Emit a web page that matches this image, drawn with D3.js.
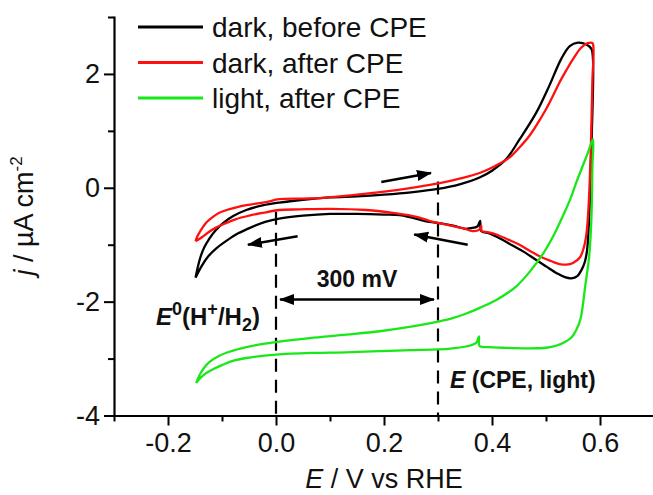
<!DOCTYPE html>
<html>
<head>
<meta charset="utf-8">
<script src="https://cdn.jsdelivr.net/npm/d3@7"></script>
<style>
  body { margin: 0; background: #fff; }
  svg text { font-family: "Liberation Sans", Arial, sans-serif; fill: #111; }
</style>
</head>
<body>
<script>
// chart data (E in V vs RHE, j in uA/cm2)
const xMajor = [-0.2, 0.0, 0.2, 0.4, 0.6];
const xMinor = [-0.3, -0.1, 0.1, 0.3, 0.5, 0.7];
const yMajor = [-4, -2, 0, 2];
const yMinor = [-3, -1, 1, 3];

const seriesNames = ["dark, before CPE", "dark, after CPE", "light, after CPE"];
const seriesColors = ["#000000", "#ff1010", "#18e818"];

const darkBeforeE = [-0.149, -0.145, -0.140, -0.133, -0.124, -0.112, -0.098, -0.080, -0.055, -0.025, 0.006, 0.05, 0.10, 0.15, 0.20, 0.25, 0.30, 0.34, 0.377, 0.40, 0.426, 0.451, 0.482, 0.506, 0.528, 0.544, 0.559, 0.574, 0.584, 0.587, 0.585, 0.582, 0.579, 0.576, 0.572, 0.567, 0.558, 0.547, 0.535, 0.52, 0.50, 0.482, 0.46, 0.439, 0.415, 0.395, 0.38, 0.378, 0.373, 0.36, 0.35, 0.33, 0.303, 0.284, 0.25, 0.229, 0.20, 0.15, 0.10, 0.05, 0.006, -0.02, -0.045, -0.07, -0.09, -0.11, -0.125, -0.138, -0.149];
const darkBeforeJ = [-1.58, -1.40, -1.22, -1.05, -0.90, -0.75, -0.62, -0.50, -0.39, -0.31, -0.26, -0.21, -0.17, -0.15, -0.12, -0.08, -0.02, 0.06, 0.18, 0.30, 0.50, 0.85, 1.32, 1.79, 2.26, 2.49, 2.55, 2.52, 2.44, 2.26, 1.0, 0.0, -0.7, -1.1, -1.30, -1.42, -1.55, -1.59, -1.57, -1.50, -1.38, -1.27, -1.13, -1.02, -0.89, -0.80, -0.76, -0.58, -0.68, -0.71, -0.72, -0.67, -0.62, -0.60, -0.52, -0.48, -0.47, -0.46, -0.46, -0.49, -0.54, -0.60, -0.69, -0.80, -0.92, -1.06, -1.20, -1.38, -1.58];

const darkAfterE = [-0.149, -0.146, -0.142, -0.136, -0.129, -0.118, -0.105, -0.088, -0.068, -0.045, -0.018, 0.006, 0.05, 0.081, 0.15, 0.223, 0.26, 0.303, 0.34, 0.377, 0.405, 0.432, 0.45, 0.469, 0.485, 0.50, 0.512, 0.525, 0.538, 0.55, 0.565, 0.577, 0.586, 0.588, 0.586, 0.583, 0.579, 0.575, 0.57, 0.563, 0.55, 0.538, 0.525, 0.51, 0.494, 0.472, 0.451, 0.43, 0.408, 0.392, 0.381, 0.380, 0.376, 0.364, 0.346, 0.321, 0.284, 0.26, 0.223, 0.167, 0.10, 0.044, 0.006, -0.024, -0.05, -0.074, -0.095, -0.111, -0.125, -0.136, -0.149];
const darkAfterJ = [-0.94, -0.86, -0.79, -0.70, -0.61, -0.52, -0.44, -0.38, -0.33, -0.29, -0.25, -0.20, -0.19, -0.18, -0.12, -0.04, 0.01, 0.08, 0.16, 0.26, 0.38, 0.53, 0.70, 0.91, 1.14, 1.38, 1.60, 1.85, 2.07, 2.26, 2.46, 2.54, 2.54, 2.40, 1.91, 0.68, -0.3, -0.8, -1.05, -1.22, -1.32, -1.35, -1.34, -1.29, -1.23, -1.12, -1.00, -0.91, -0.82, -0.78, -0.76, -0.67, -0.74, -0.76, -0.71, -0.66, -0.58, -0.51, -0.45, -0.39, -0.37, -0.38, -0.39, -0.44, -0.49, -0.55, -0.63, -0.70, -0.78, -0.86, -0.94];

const lightAfterE = [-0.148, -0.141, -0.133, -0.123, -0.105, -0.086, -0.055, -0.024, 0.0, 0.062, 0.13, 0.192, 0.25, 0.30, 0.327, 0.355, 0.377, 0.408, 0.445, 0.472, 0.497, 0.515, 0.531, 0.545, 0.556, 0.567, 0.577, 0.587, 0.586, 0.584, 0.580, 0.573, 0.564, 0.556, 0.548, 0.535, 0.52, 0.50, 0.46, 0.42, 0.395, 0.377, 0.376, 0.371, 0.36, 0.327, 0.30, 0.25, 0.192, 0.13, 0.068, 0.0, -0.055, -0.08, -0.099, -0.115, -0.13, -0.14, -0.148];
const lightAfterJ = [-3.43, -3.28, -3.16, -3.06, -2.95, -2.88, -2.80, -2.74, -2.71, -2.64, -2.58, -2.52, -2.44, -2.35, -2.29, -2.20, -2.11, -1.97, -1.73, -1.45, -1.12, -0.82, -0.50, -0.20, 0.09, 0.36, 0.60, 0.85, 0.4, -0.56, -1.2, -1.70, -2.30, -2.50, -2.62, -2.71, -2.77, -2.81, -2.82, -2.81, -2.80, -2.78, -2.61, -2.72, -2.77, -2.82, -2.84, -2.85, -2.87, -2.89, -2.90, -2.93, -2.99, -3.04, -3.11, -3.18, -3.26, -3.34, -3.43];

// sweep direction arrows: [E start, j start, E end, j end]
const sweepArrows = [
  [0.195, 0.10, 0.287, 0.26],
  [0.040, -0.85, -0.052, -1.00],
  [0.355, -1.00, 0.256, -0.82]
];
const markE = [0.0, 0.3];        // dashed potentials
const markTop = [-0.42, 0.11];   // where the dashed lines start (j)

const w = 653, h = 495;
const svg = d3.select("body").append("svg")
  .attr("width", w)
  .attr("height", h);

const x = d3.scaleLinear().domain([-0.3, 0.7]).range([114, 654]);
const y = d3.scaleLinear().domain([-4, 3]).range([415.5, 17]);

const defs = svg.append("defs");
defs.append("marker")
  .attr("id", "head")
  .attr("markerUnits", "userSpaceOnUse")
  .attr("markerWidth", 16).attr("markerHeight", 12)
  .attr("refX", 14).attr("refY", 6)
  .attr("orient", "auto-start-reverse")
  .append("path")
  .attr("d", "M0,0.5 L15,6 L0,11.5 Z")
  .attr("fill", "#000");

// axes
svg.append("g").attr("transform", `translate(0,${y(-4)})`)
  .call(d3.axisBottom(x).tickValues(xMajor).tickSize(10).tickPadding(7)
    .tickSizeOuter(0).tickFormat(d => d.toFixed(1)));
svg.append("g").attr("transform", `translate(0,${y(-4)})`)
  .call(d3.axisBottom(x).tickValues(xMinor).tickSize(6).tickSizeOuter(0).tickFormat(""))
  .select(".domain").remove();
svg.append("g").attr("transform", `translate(${x(-0.3)},0)`)
  .call(d3.axisLeft(y).tickValues(yMajor).tickSize(10).tickPadding(4)
    .tickSizeOuter(0).tickFormat(d => String(d)));
svg.append("g").attr("transform", `translate(${x(-0.3)},0)`)
  .call(d3.axisLeft(y).tickValues(yMinor).tickSize(6).tickSizeOuter(0).tickFormat(""))
  .select(".domain").remove();

svg.selectAll(".domain").attr("stroke-width", 2.2).attr("stroke-linecap", "square");
svg.selectAll(".tick line").attr("stroke-width", 2);
svg.selectAll(".tick text").attr("font-size", 27).attr("fill", "#111")
  .attr("font-family", "Liberation Sans, Arial, sans-serif");

// axis titles
const xt = svg.append("text").attr("x", 384).attr("y", 488)
  .attr("text-anchor", "middle").attr("font-size", 27);
xt.append("tspan").attr("font-style", "italic").text("E");
xt.append("tspan").text(" / V vs RHE");

const yt = svg.append("text").attr("transform", "translate(33,216) rotate(-90)")
  .attr("text-anchor", "middle").attr("font-size", 27);
yt.append("tspan").attr("font-style", "italic").text("j");
yt.append("tspan").text(" / \u00b5A cm");
yt.append("tspan").attr("font-size", 17).attr("dy", -11).text("-2");

// dashed reference lines
svg.append("g").selectAll("line")
  .data(markE)
  .join("line")
  .attr("x1", d => x(d)).attr("x2", d => x(d))
  .attr("y1", (d, i) => y(markTop[i])).attr("y2", y(-4))
  .attr("stroke", "#000").attr("stroke-width", 2.2)
  .attr("stroke-dasharray", "13,8");

// curves
const line = d3.line()
  .x(d => x(d[0]))
  .y(d => y(d[1]))
  .curve(d3.curveCatmullRom.alpha(0.5));

const curves = [
  d3.zip(darkBeforeE, darkBeforeJ),
  d3.zip(darkAfterE, darkAfterJ),
  d3.zip(lightAfterE, lightAfterJ)
];
svg.append("g").selectAll("path")
  .data(curves)
  .join("path")
  .attr("d", line)
  .attr("fill", "none")
  .attr("stroke", (d, i) => seriesColors[i])
  .attr("stroke-width", 2.3)
  .attr("stroke-linejoin", "round");

// sweep arrows
svg.append("g").selectAll("line")
  .data(sweepArrows)
  .join("line")
  .attr("x1", d => x(d[0])).attr("y1", d => y(d[1]))
  .attr("x2", d => x(d[2])).attr("y2", d => y(d[3]))
  .attr("stroke", "#000").attr("stroke-width", 2.5)
  .attr("marker-end", "url(#head)");

// 300 mV span
const spanY = 299.5;
svg.append("line")
  .attr("x1", x(markE[0]) + 4).attr("x2", x(markE[1]) - 4)
  .attr("y1", spanY).attr("y2", spanY)
  .attr("stroke", "#000").attr("stroke-width", 2.5)
  .attr("marker-start", "url(#head)")
  .attr("marker-end", "url(#head)");
svg.append("text")
  .attr("x", (x(markE[0]) + x(markE[1])) / 2).attr("y", 287)
  .attr("text-anchor", "middle")
  .attr("font-size", 23).attr("font-weight", "bold")
  .text("300 mV");

// E0 label
const e0 = svg.append("text").attr("x", 156).attr("y", 325)
  .attr("font-size", 24).attr("font-weight", "bold");
e0.append("tspan").attr("font-style", "italic").text("E");
e0.append("tspan").attr("font-size", 18).attr("dy", -10).text("0");
e0.append("tspan").attr("dy", 10).text("(H");
e0.append("tspan").attr("font-size", 18).attr("dy", -10).text("+");
e0.append("tspan").attr("dy", 10).text("/H");
e0.append("tspan").attr("font-size", 18).attr("dy", 6).text("2");
e0.append("tspan").attr("dy", -6).text(")");

// E (CPE, light) label
const ecpe = svg.append("text").attr("x", 450).attr("y", 388)
  .attr("font-size", 23).attr("font-weight", "bold");
ecpe.append("tspan").attr("font-style", "italic").text("E");
ecpe.append("tspan").text(" (CPE, light)");

// legend
const legend = svg.append("g").attr("transform", "translate(138,27)");
const rows = legend.selectAll("g")
  .data(seriesNames)
  .join("g")
  .attr("transform", (d, i) => `translate(0,${i * 35.5})`);
rows.append("line")
  .attr("x1", 0).attr("x2", 65)
  .attr("stroke", (d, i) => seriesColors[i])
  .attr("stroke-width", 3);
rows.append("text")
  .attr("x", 74).attr("y", 10)
  .attr("font-size", 28)
  .text(d => d);
</script>
</body>
</html>
